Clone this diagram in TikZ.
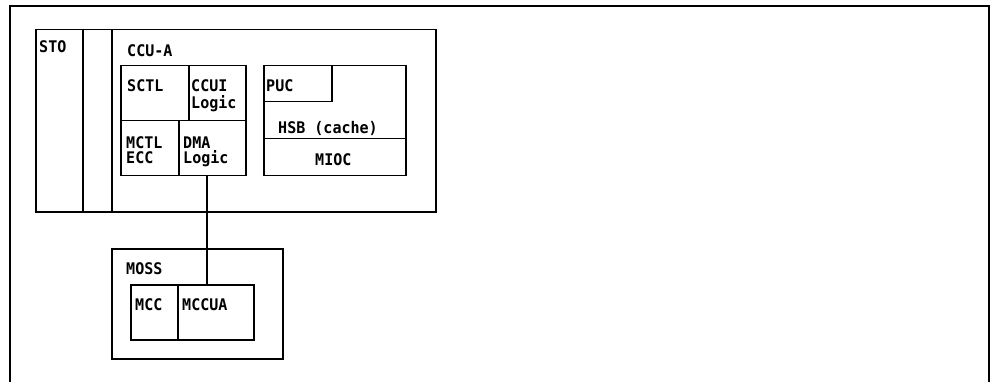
\documentclass[tikz,border=0pt]{standalone}
\usepackage{fontspec}
\newfontfamily\ibmfont{DejaVu Sans Mono}[FakeStretch=0.94]
\begin{document}
\begin{tikzpicture}[x=1pt,y=-1pt,
  box/.style={draw, line width=1.5pt, rectangle, inner sep=0pt, anchor=north west},
  lbl/.style={anchor=base west, inner sep=0pt, font=\ibmfont\bfseries\fontsize{16}{18}\selectfont},
  wire/.style={line width=1.5pt}]
\useasboundingbox (0,0) rectangle (995,382);
% outer frame (open at the bottom)
\draw[line width=1.6pt] (10,382) -- (10,6) -- (989,6) -- (989,382);
% storage / CCU-A block
\node[box, minimum width=400pt, minimum height=182pt] (sto) at (35,29) {};
\node[box, minimum width=29pt, minimum height=182pt] (bar) at (82,29) {};
\node[box, minimum width=324pt, minimum height=182pt] (ccua) at (111,29) {};
\node[lbl] (tsto) at (39,53) {STO};
\node[lbl] (tccua) at (127,57) {CCU-A};
% left logic block
\node[box, minimum width=68pt, minimum height=55pt] (sctl) at (120,65) {};
\node[box, minimum width=57pt, minimum height=55pt] (ccui) at (188,65) {};
\node[box, minimum width=58pt, minimum height=55pt] (mctl) at (120,120) {};
\node[box, minimum width=67pt, minimum height=55pt] (dma) at (178,120) {};
\node[lbl] (tsctl) at (127,92) {SCTL};
\node[lbl] (tccui) at (191,92) {CCUI};
\node[lbl] (tccuil) at (191,109) {Logic};
\node[lbl] (tmctl) at (126,149) {MCTL};
\node[lbl] (tecc) at (126,164) {ECC};
\node[lbl] (tdma) at (183,149) {DMA};
\node[lbl] (tdmal) at (183,164) {Logic};
% right block
\node[box, minimum width=142pt, minimum height=73pt] (hsb) at (263,65) {};
\node[box, minimum width=68pt, minimum height=36pt] (puc) at (263,65) {};
\node[box, minimum width=142pt, minimum height=37pt] (mioc) at (263,138) {};
\node[lbl] (tpuc) at (266,92) {PUC};
\node[lbl] (thsb) at (278,134) {HSB (cache)};
\node[lbl] (tmioc) at (315,165.5) {MIOC};
% MOSS block
\node[box, minimum width=171pt, minimum height=110pt] (moss) at (111,248) {};
\node[box, minimum width=47pt, minimum height=55pt] (mcc) at (130,284) {};
\node[box, minimum width=76pt, minimum height=55pt] (mccua) at (177,284) {};
\node[lbl] (tmoss) at (126,274) {MOSS};
\node[lbl] (tmcc) at (135,310.5) {MCC};
\node[lbl] (tmccua) at (182,310.5) {MCCUA};
% connector
\coordinate (cx) at (207,0);
\draw[wire] (dma.south -| cx) -- (mccua.north -| cx);
\end{tikzpicture}
\end{document}
